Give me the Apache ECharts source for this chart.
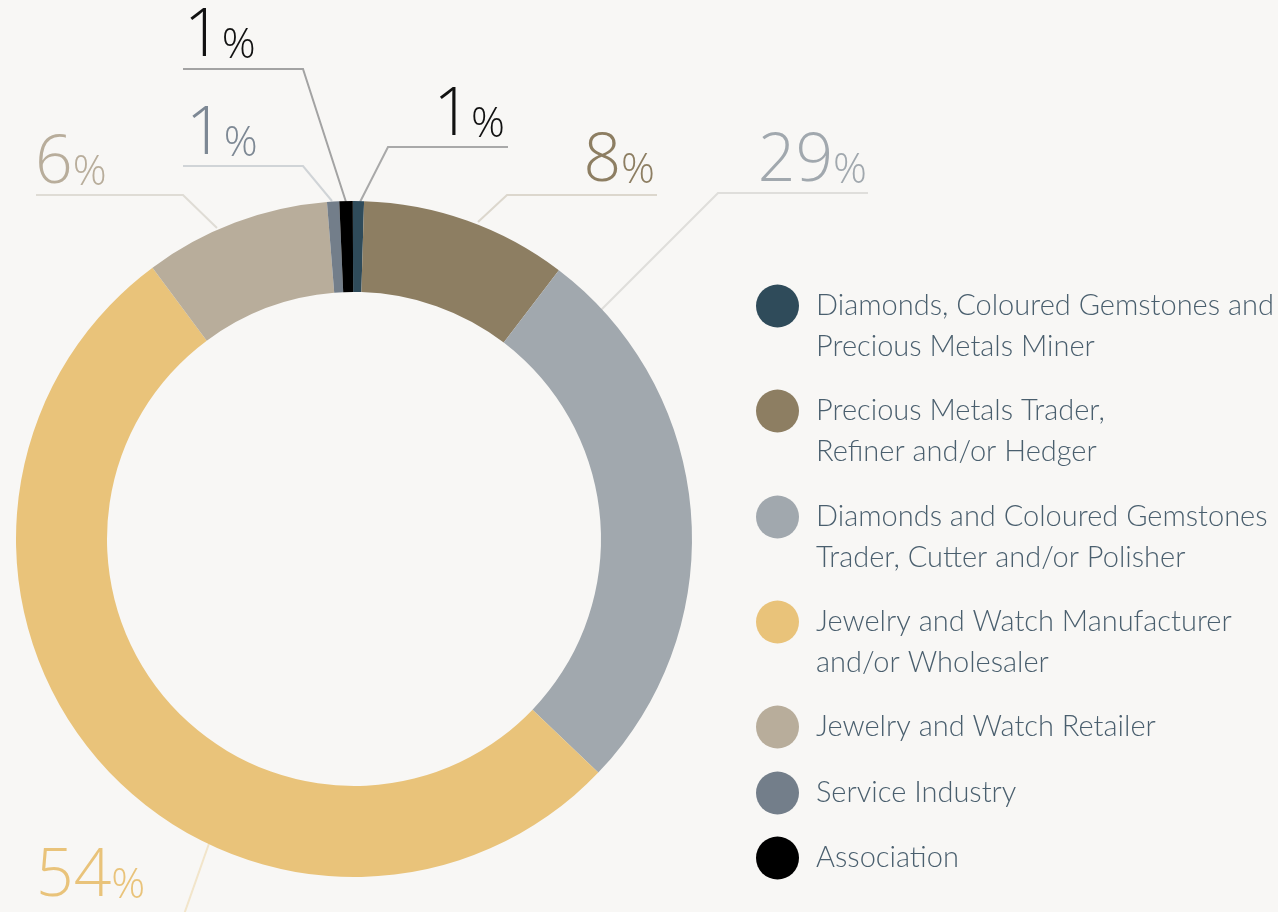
<!DOCTYPE html>
<html>
<head>
<meta charset="utf-8">
<script src="https://cdn.jsdelivr.net/npm/echarts@6/dist/echarts.min.js"></script>
<style>
  html, body { margin: 0; padding: 0; background: #f8f7f5; }
  #chart { width: 1278px; height: 912px; }
</style>
</head>
<body>
<div id="chart"></div>
<script>
// 类别
const categories = [
  'Diamonds, Coloured Gemstones and\nPrecious Metals Miner',
  'Precious Metals Trader,\nRefiner and/or Hedger',
  'Diamonds and Coloured Gemstones\nTrader, Cutter and/or Polisher',
  'Jewelry and Watch Manufacturer\nand/or Wholesaler',
  'Jewelry and Watch Retailer',
  'Service Industry',
  'Association'
]

// 扇区大小（按图上角度读取，%）
const shares = [0.53, 9.89, 26.78, 52.69, 8.89, 0.58, 0.64]

// 图上标注的百分比
const pctLabels = [1, 8, 29, 54, 6, 1, 1]

// 颜色
const colors = ['#2f4b5a', '#8d7e62', '#a1a8ae', '#e9c37a', '#b8ad9b', '#737e8a', '#000000']
const labelColors = ['#111111', '#8d7e62', '#a1a8ae', '#e9c37a', '#b8ad9b', '#7d8894', '#111111']
const lineColors = ['#a9a9a9', '#dcd7cd', '#dfdedb', '#f2e5ca', '#dfdcd5', '#d0d4d7', '#a3a3a3']

// 标签位置 + 引导线
const labelSpots = [
  { x: 505, y: 137, align: 'right', line: [[360, 202], [388, 147], [508, 147]] },
  { x: 655, y: 183, align: 'right', line: [[478, 222], [507, 195], [657, 195]] },
  { x: 867, y: 183, align: 'right', line: [[588, 323], [718, 193], [868, 193]] },
  { x: 36, y: 898, align: 'left', line: [[218, 818], [175, 940], [30, 940]] },
  { x: 35, y: 185, align: 'left', line: [[217, 228], [183, 195], [36, 195]] },
  { x: 186, y: 156, align: 'left', line: [[332, 201], [303, 166], [183, 166]] },
  { x: 184, y: 58, align: 'left', line: [[346, 202], [303, 69], [183, 69]] }
]
const baselineShift = 12

// 图例圆点中心 y
const legendCenters = [306, 411, 517, 622, 727, 793, 858]
const legendFont = {
  fontFamily: 'Lato',
  fontWeight: 300,
  fontSize: 29,
  lineHeight: 41,
  color: '#4a5f6e',
  padding: [0, 0, 0, 12]
}

const legends = categories.map((name, i) => {
  const twoLine = name.includes('\n')
  const cy = legendCenters[i]
  return {
    data: [name],
    left: 756,
    top: twoLine ? cy - 61.5 : cy - 21.5,
    orient: 'vertical',
    padding: 0,
    icon: 'circle',
    itemWidth: 43,
    itemHeight: 43,
    selectedMode: false,
    // 首行与圆点对齐：前面补一个空行
    formatter: (n) => (twoLine ? '\n' + n : n),
    textStyle: legendFont
  }
})

const chart = echarts.init(document.getElementById('chart'))

const option = {
  backgroundColor: '#f8f7f5',
  animation: false,
  legend: legends,
  series: [
    {
      type: 'pie',
      center: [354, 539],
      radius: [247, 338],
      startAngle: 90.2,
      clockwise: true,
      avoidLabelOverlap: false,
      silent: true,
      emphasis: { disabled: true },
      data: categories.map((name, i) => ({
        name,
        value: shares[i],
        itemStyle: { color: colors[i] },
        label: { color: labelColors[i] },
        labelLine: { lineStyle: { color: lineColors[i] } }
      })),
      label: {
        show: true,
        formatter: (p) => `{n|${pctLabels[p.dataIndex]}}{p|%}`,
        rich: {
          n: {
            fontFamily: 'Open Sans',
            fontWeight: 300,
            fontSize: 66,
            lineHeight: 70,
            verticalAlign: 'bottom'
          },
          p: {
            fontFamily: 'Open Sans',
            fontWeight: 300,
            fontSize: 42,
            verticalAlign: 'bottom',
            padding: [0, 0, 3, 0]
          }
        }
      },
      labelLine: {
        show: true,
        lineStyle: { width: 2 }
      },
      labelLayout: (p) => {
        const s = labelSpots[p.dataIndex]
        return {
          x: s.x,
          y: s.y + baselineShift,
          align: s.align,
          verticalAlign: 'bottom',
          labelLinePoints: s.line
        }
      }
    }
  ]
}

chart.setOption(option)
</script>
</body>
</html>
